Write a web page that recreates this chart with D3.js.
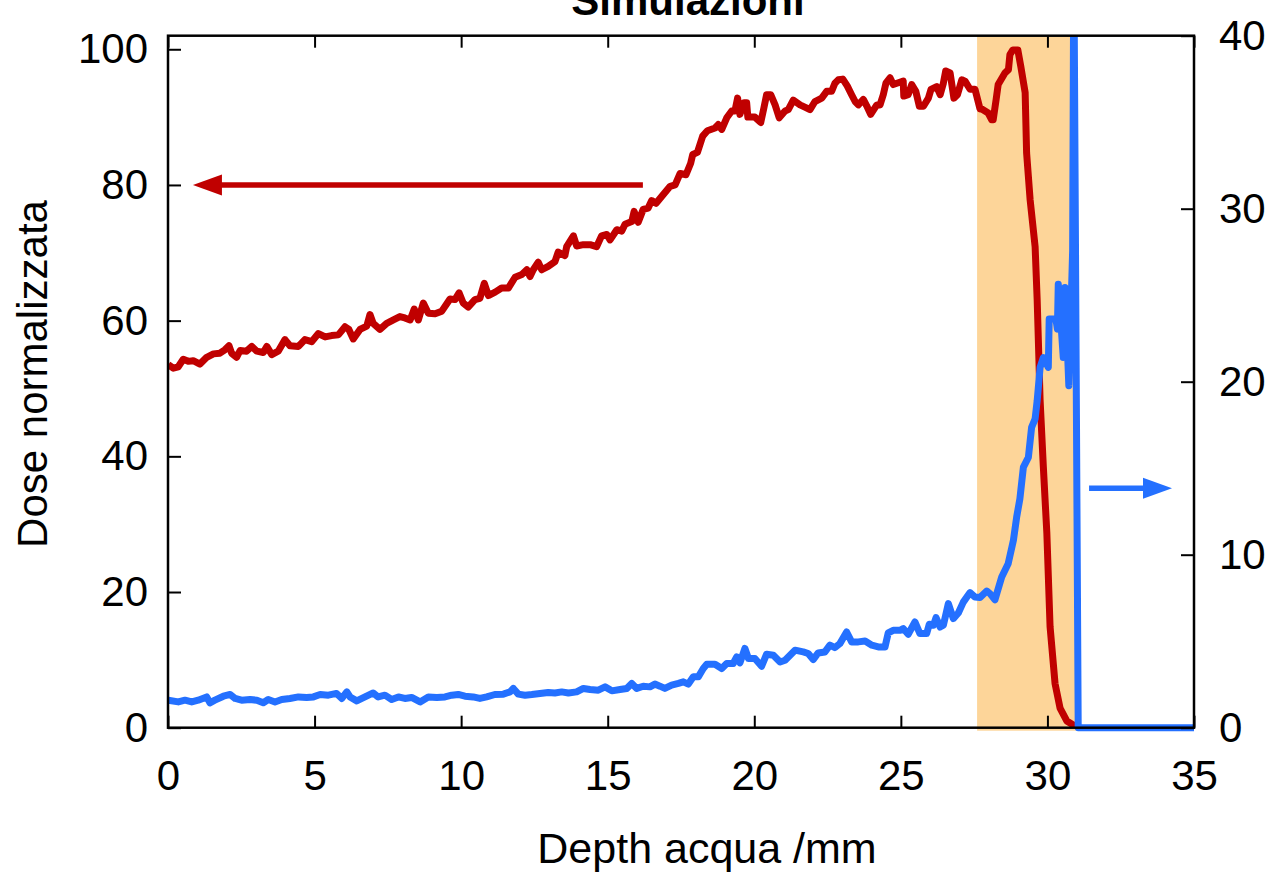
<!DOCTYPE html>
<html>
<head>
<meta charset="utf-8">
<script src="https://cdn.jsdelivr.net/npm/d3@7"></script>
<style>
  body { margin: 0; background: #fff; }
  svg text { font-family: Arial, "Liberation Sans", sans-serif; fill: #000; }
</style>
</head>
<body>
<div id="chart"></div>
<script>
// Dose normalizzata (left axis), [depth mm, dose]
const doseSim = [
  [0.01,53.5],[0.18,53.0],[0.35,53.2],[0.52,54.3],[0.69,54.0],[0.86,54.1],[1.09,53.6],[1.32,54.6],
  [1.55,55.1],[1.77,55.2],[1.94,55.7],[2.08,56.3],[2.17,55.2],[2.34,54.6],[2.46,55.6],[2.68,55.5],
  [2.86,56.2],[3.03,55.5],[3.25,55.3],[3.37,56.2],[3.54,55.0],[3.76,55.5],[3.99,57.2],[4.16,56.3],
  [4.45,56.2],[4.67,57.2],[4.90,56.9],[5.13,58.1],[5.36,57.6],[5.58,57.8],[5.81,57.9],[6.04,59.1],
  [6.17,58.7],[6.32,57.3],[6.55,58.7],[6.78,59.2],[6.89,60.9],[7.00,59.6],[7.23,58.7],[7.46,59.6],
  [7.69,60.1],[7.91,60.6],[8.08,60.4],[8.26,60.1],[8.40,61.7],[8.54,60.1],[8.71,62.6],[8.88,61.1],
  [9.11,61.0],[9.34,61.4],[9.62,63.2],[9.79,63.1],[9.93,64.1],[10.07,62.6],[10.24,62.0],[10.47,63.1],
  [10.64,63.3],[10.79,65.5],[10.93,63.7],[11.16,64.2],[11.38,64.8],[11.61,64.8],[11.84,66.4],[12.07,66.8],
  [12.24,67.5],[12.35,66.5],[12.46,67.5],[12.63,68.6],[12.75,67.5],[12.97,68.0],[13.20,68.7],[13.31,70.1],
  [13.54,69.6],[13.60,70.9],[13.83,72.5],[13.94,71.0],[14.17,71.2],[14.40,71.2],[14.62,70.9],[14.79,72.5],
  [14.97,72.7],[15.08,71.9],[15.31,73.4],[15.48,73.2],[15.59,74.2],[15.82,74.6],[15.90,76.1],[16.04,74.5],
  [16.21,76.4],[16.38,76.6],[16.50,77.7],[16.65,77.3],[16.84,78.3],[17.13,79.8],[17.30,80.0],[17.47,81.7],
  [17.67,81.5],[17.83,83.2],[17.90,84.5],[18.06,84.8],[18.24,87.2],[18.40,88.0],[18.66,88.4],[18.77,88.9],
  [18.89,88.2],[19.06,89.9],[19.23,90.9],[19.34,90.9],[19.43,92.8],[19.51,90.4],[19.65,92.1],[19.74,92.1],
  [19.78,90.0],[20.02,90.0],[20.22,89.2],[20.33,91.4],[20.42,93.3],[20.56,93.3],[20.71,91.8],[20.85,89.9],
  [21.05,90.9],[21.16,91.1],[21.33,92.5],[21.56,91.8],[21.76,91.4],[21.90,91.1],[22.07,92.3],[22.30,92.8],
  [22.47,93.8],[22.64,93.8],[22.75,95.0],[22.87,95.5],[23.02,95.6],[23.17,94.6],[23.32,93.3],[23.44,92.3],
  [23.55,91.8],[23.72,92.6],[23.83,91.7],[23.97,90.4],[24.18,91.8],[24.29,91.8],[24.40,93.3],[24.49,95.0],
  [24.63,95.8],[24.74,94.8],[24.94,95.1],[25.08,95.3],[25.10,93.1],[25.25,93.3],[25.37,94.8],[25.51,93.8],
  [25.63,91.6],[25.77,91.6],[25.94,92.8],[26.03,94.1],[26.22,94.5],[26.34,93.3],[26.45,95.0],[26.53,96.8],
  [26.68,96.5],[26.81,92.8],[26.93,93.3],[27.08,95.5],[27.19,95.3],[27.36,94.1],[27.53,94.1],[27.70,91.2],
  [27.76,91.2],[27.98,90.6],[28.10,89.6],[28.15,89.6],[28.25,92.6],[28.32,94.8],[28.55,96.5],[28.67,97.0],
  [28.72,99.2],[28.82,99.9],[28.99,99.9],[29.09,97.5],[29.24,93.6],[29.29,84.7],[29.41,77.8],[29.58,70.9],
  [29.65,63.1],[29.75,48.3],[29.86,38.5],[29.98,28.7],[30.09,14.9],[30.26,6.5],[30.43,2.9],[30.66,1.0],
  [30.88,0.4],[30.97,0.1]
];

// right axis series, [depth mm, value]
const rightSim = [
  [0.01,1.59],[0.35,1.49],[0.58,1.59],[0.81,1.49],[1.03,1.59],[1.32,1.78],[1.43,1.44],[1.60,1.59],
  [1.89,1.82],[2.12,1.92],[2.29,1.69],[2.51,1.59],[2.80,1.63],[3.03,1.59],[3.25,1.44],[3.42,1.63],
  [3.65,1.49],[3.88,1.63],[4.16,1.69],[4.45,1.78],[4.73,1.75],[4.96,1.78],[5.19,1.92],[5.47,1.88],
  [5.75,1.98],[5.93,1.69],[6.10,2.07],[6.21,1.78],[6.44,1.55],[6.72,1.78],[7.00,2.01],[7.17,1.78],
  [7.40,1.88],[7.63,1.63],[7.86,1.78],[8.08,1.69],[8.31,1.75],[8.60,1.49],[8.88,1.78],[9.17,1.75],
  [9.45,1.78],[9.68,1.88],[9.90,1.92],[10.13,1.82],[10.41,1.78],[10.64,1.69],[10.87,1.78],[11.15,1.92],
  [11.44,1.94],[11.67,2.07],[11.78,2.27],[11.95,1.94],[12.18,1.88],[12.41,1.92],[12.69,1.98],[12.97,2.04],
  [13.20,2.01],[13.43,2.07],[13.66,2.01],[13.94,2.07],[14.17,2.27],[14.40,2.21],[14.68,2.17],[14.91,2.36],
  [15.14,2.13],[15.42,2.21],[15.65,2.27],[15.82,2.56],[15.99,2.27],[16.21,2.40],[16.44,2.36],[16.61,2.52],
  [16.78,2.40],[16.95,2.27],[17.18,2.46],[17.41,2.56],[17.58,2.65],[17.75,2.52],[17.92,2.94],[18.09,2.94],
  [18.26,3.42],[18.38,3.67],[18.66,3.67],[18.89,3.42],[19.06,3.71],[19.28,3.71],[19.40,4.09],[19.51,3.75],
  [19.68,4.58],[19.80,4.00],[20.02,4.00],[20.25,3.55],[20.42,4.25],[20.65,4.19],[20.88,3.80],[21.05,3.90],
  [21.22,4.19],[21.39,4.48],[21.67,4.38],[21.84,4.29],[22.01,3.94],[22.18,4.32],[22.41,4.38],[22.58,4.77],
  [22.75,4.63],[22.92,4.86],[23.15,5.53],[23.32,4.96],[23.55,4.96],[23.78,5.01],[24.01,4.77],[24.23,4.67],
  [24.46,4.67],[24.57,5.48],[24.74,5.63],[24.97,5.63],[25.08,5.73],[25.25,5.40],[25.48,6.11],[25.65,5.44],
  [25.88,5.44],[25.97,5.98],[26.11,5.92],[26.20,6.36],[26.34,5.82],[26.45,5.92],[26.62,7.17],[26.79,6.31],
  [26.96,6.63],[27.13,7.26],[27.36,7.81],[27.53,7.55],[27.70,7.52],[27.93,7.90],[28.04,7.75],[28.21,7.40],
  [28.44,8.71],[28.66,9.48],[28.84,10.83],[28.95,12.17],[29.06,13.23],[29.18,15.06],[29.35,15.63],[29.46,17.36],
  [29.58,17.85],[29.65,18.90],[29.75,20.83],[29.86,21.40],[30.03,20.83],[30.06,23.62],[30.29,23.62],[30.34,23.04],
  [30.37,25.64],[30.54,21.40],[30.60,25.44],[30.73,19.77],[30.86,27.56],[30.90,45],[31.05,0],[35,0]
];

// shaded depth band [from, to]
const band = [27.6, 31.0];

// arrow annotations: [x0, x1, y] (tip at x1)
const arrowDose = [16.2, 0.85, 80];
const arrowRight = [31.42, 34.25, 13.84];

const xTicks = [0, 5, 10, 15, 20, 25, 30, 35];
const yLeftTicks = [0, 20, 40, 60, 80, 100];
const yRightTicks = [0, 10, 20, 30, 40];

const W = 1273, H = 874;
const margin = { top: 35.7, right: 79, bottom: 146.3, left: 168 };
const width = W - margin.left - margin.right;
const height = H - margin.top - margin.bottom;

const svg = d3.select("#chart").append("svg").attr("width", W).attr("height", H);
const g = svg.append("g").attr("transform", `translate(${margin.left},${margin.top})`);

const x = d3.scaleLinear().domain([0, 35]).range([0, width]);
const yL = d3.scaleLinear().domain([0, 102]).range([height, 0]);
const yR = d3.scaleLinear().domain([0, 40]).range([height, 0]);

g.append("clipPath").attr("id", "clip").append("rect")
  .attr("x", 0).attr("y", 0).attr("width", width).attr("height", height);

// orange band
g.append("rect")
  .attr("x", x(band[0])).attr("y", 0)
  .attr("width", x(band[1]) - x(band[0])).attr("height", height + 3)
  .attr("fill", "#FDD599");

const lineL = d3.line().x(d => x(d[0])).y(d => yL(d[1]));
const lineR = d3.line().x(d => x(d[0])).y(d => yR(d[1]));

const plot = g.append("g").attr("clip-path", "url(#clip)");
plot.append("path").datum(doseSim).attr("d", lineL)
  .attr("fill", "none").attr("stroke", "#C00000").attr("stroke-width", 7).attr("stroke-linejoin", "round");
// right series clipped only at the top so the 0 line sits on the axis
g.append("clipPath").attr("id", "clip2").append("rect")
  .attr("x", -10).attr("y", 0).attr("width", width + 10).attr("height", height + 10);
g.append("path").datum(rightSim).attr("d", lineR).attr("clip-path", "url(#clip2)")
  .attr("fill", "none").attr("stroke", "#2470FF").attr("stroke-width", 7).attr("stroke-linejoin", "round");

// arrows
function arrow(x0, x1, y, color) {
  const dir = Math.sign(x1 - x0);
  const headLen = 29, headHalf = 10.5;
  g.append("line")
    .attr("x1", x0).attr("x2", x1 - dir * headLen + dir * 2)
    .attr("y1", y).attr("y2", y)
    .attr("stroke", color).attr("stroke-width", 5.5);
  g.append("path")
    .attr("d", `M${x1},${y} L${x1 - dir * headLen},${y - headHalf} L${x1 - dir * headLen},${y + headHalf} Z`)
    .attr("fill", color);
}
arrow(x(arrowDose[0]), x(arrowDose[1]), yL(arrowDose[2]), "#C00000");
arrow(x(arrowRight[0]), x(arrowRight[1]), yR(arrowRight[2]), "#2470FF");

// axes
const fs = "42px";
const bottomAxis = g.append("g").attr("transform", `translate(0,${height})`)
  .call(d3.axisBottom(x).tickValues(xTicks).tickSizeInner(-12).tickSizeOuter(0).tickPadding(32));
const topAxis = g.append("g")
  .call(d3.axisTop(x).tickValues(xTicks).tickSizeInner(-12).tickSizeOuter(0).tickFormat(""));
const leftAxis = g.append("g")
  .call(d3.axisLeft(yL).tickValues(yLeftTicks).tickSizeInner(-13).tickSizeOuter(0).tickPadding(20));
const rightAxis = g.append("g").attr("transform", `translate(${width},0)`)
  .call(d3.axisRight(yR).tickValues(yRightTicks).tickSizeInner(-13).tickSizeOuter(0).tickPadding(25));

[bottomAxis, topAxis, leftAxis, rightAxis].forEach(a => {
  a.select(".domain").remove();
  a.selectAll(".tick line").attr("stroke", "#000").attr("stroke-width", 2);
  a.selectAll(".tick text").style("font-size", fs).attr("fill", "#000");
});

// frame
g.append("rect").attr("x", 0).attr("y", 0).attr("width", width).attr("height", height)
  .attr("fill", "none").attr("stroke", "#000").attr("stroke-width", 2.5);

// titles
svg.append("text").attr("x", 688).attr("y", 15).attr("text-anchor", "middle")
  .style("font-size", "42px").style("font-weight", "700").text("Simulazioni");
svg.append("text").attr("x", 707).attr("y", 863).attr("text-anchor", "middle")
  .style("font-size", "43px").text("Depth acqua /mm");
svg.append("text").attr("transform", "translate(47,374) rotate(-90)").attr("text-anchor", "middle")
  .style("font-size", "42px").text("Dose normalizzata");
</script>
</body>
</html>
